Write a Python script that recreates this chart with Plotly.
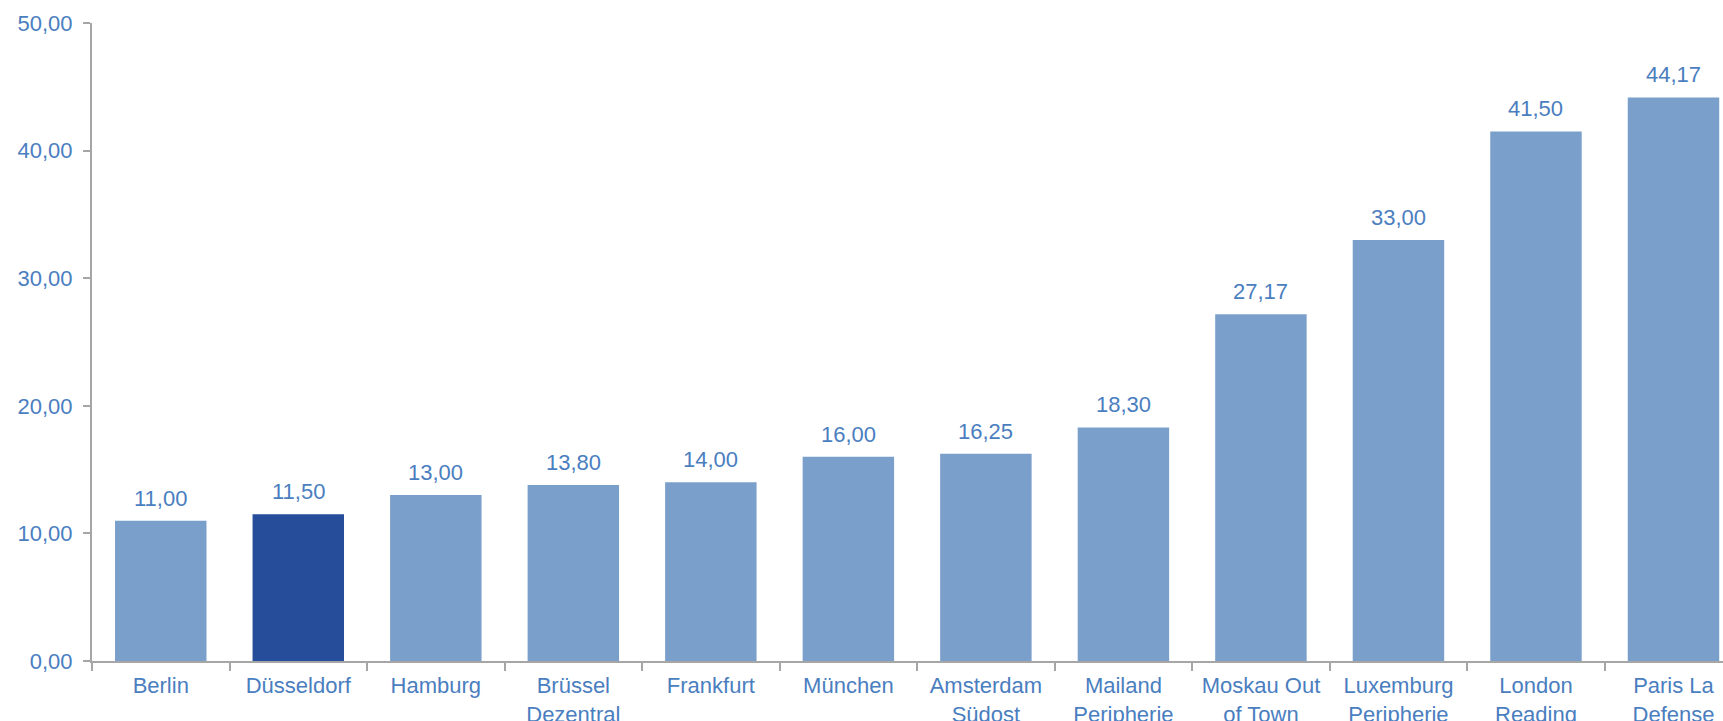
import plotly.graph_objects as go

categories = ["Berlin", "Düsseldorf", "Hamburg", "Brüssel<br>Dezentral", "Frankfurt",
              "München", "Amsterdam<br>Südost", "Mailand<br>Peripherie",
              "Moskau Out<br>of Town", "Luxemburg<br>Peripherie", "London<br>Reading",
              "Paris La<br>Defense"]
values = [11.00, 11.50, 13.00, 13.80, 14.00, 16.00, 16.25, 18.30, 27.17, 33.00, 41.50, 44.17]
highlight = "Düsseldorf"

light = "#7a9fcb"
dark = "#254d99"
txt = "#4a7ebf"
axis_col = "#a6a6a6"
font_family = "Liberation Sans, Arial, sans-serif"
fs = 22

colors = [dark if c == highlight else light for c in categories]
labels = [f"{v:.2f}".replace(".", ",") for v in values]

fig = go.Figure()
fig.add_trace(go.Bar(x=categories, y=values, marker=dict(color=colors, line=dict(width=0)),
                     hoverinfo="skip"))
for c, v, t in zip(categories, values, labels):
    fig.add_annotation(x=c, y=v, text=t, showarrow=False, yanchor="bottom", yshift=8,
                       font=dict(family=font_family, size=fs, color=txt))

fig.update_layout(
    width=1723, height=721,
    margin=dict(l=92, r=0, t=23, b=60, autoexpand=False),
    plot_bgcolor="white", paper_bgcolor="white",
    separators=",.",
    bargap=0.335,
    showlegend=False,
    hovermode=False,
    font=dict(family=font_family, size=fs, color=txt),
)
fig.update_xaxes(range=[-0.5, 11.36], showline=True, linecolor=axis_col, linewidth=2,
                 ticks="outside", tickson="boundaries", ticklen=8, tickcolor=axis_col,
                 tickwidth=2, showgrid=False, tickfont=dict(size=fs, color=txt),
                 ticklabelstandoff=4, automargin=False, fixedrange=True)
fig.update_yaxes(range=[0, 50], dtick=10, tickformat=".2f", showline=True, linecolor=axis_col,
                 linewidth=2, ticks="outside", ticklen=7, tickcolor=axis_col, tickwidth=2,
                 showgrid=False, zeroline=False, tickfont=dict(size=fs, color=txt),
                 ticklabelstandoff=6, automargin=False, fixedrange=True)

fig.write_html("out.html", config={"displayModeBar": False, "staticPlot": True},
               post_script="document.body.style.margin='0';document.body.style.overflow='hidden';")
